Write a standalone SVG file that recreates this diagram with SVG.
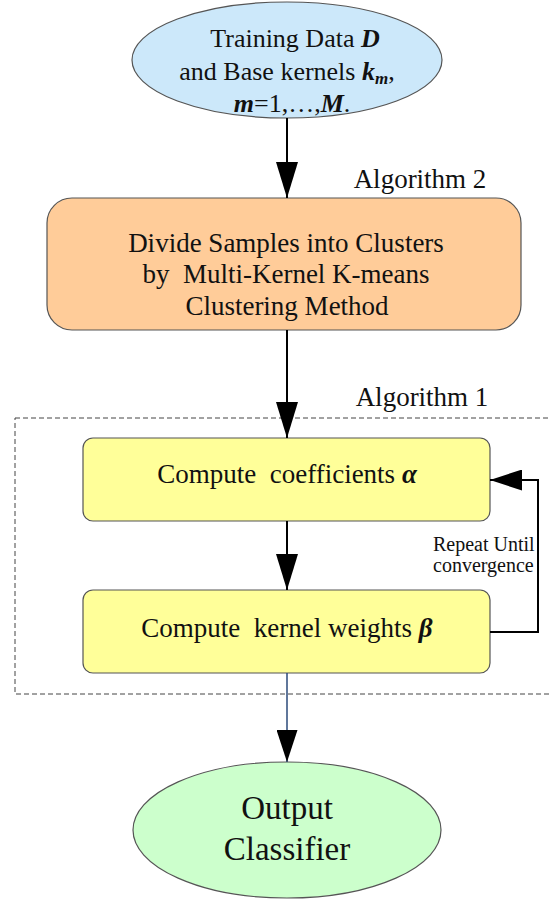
<svg xmlns="http://www.w3.org/2000/svg" width="549" height="899" viewBox="0 0 549 899" font-family="Liberation Serif, DejaVu Serif, serif">
  <style>
    text { font-family: 'Liberation Serif', 'DejaVu Serif', serif; fill: #111; text-anchor: middle; }
    .node { stroke: #555; stroke-width: 1.2; }
    .conn { stroke: #000; stroke-width: 2; fill: none; }
    .lbl { font-size: 27px; }
    .body { font-size: 27px; }
    .oval { font-size: 26px; }
    .small { font-size: 20px; text-anchor: start; }
    .big { font-size: 33px; }
    .bi { font-weight: bold; font-style: italic; }
  </style>
  <defs>
    <marker id="head" markerUnits="userSpaceOnUse" markerWidth="36" markerHeight="22" viewBox="0 0 36 22" refX="36" refY="11" orient="auto">
      <path d="M0,0 L36,11 L0,22 z" fill="#000"/>
    </marker>
    <marker id="headS" markerUnits="userSpaceOnUse" markerWidth="32" markerHeight="21" viewBox="0 0 32 21" refX="32" refY="10.5" orient="auto">
      <path d="M0,0 L32,10.5 L0,21 z" fill="#000"/>
    </marker>
  </defs>

  <!-- Algorithm 1 frame -->
  <rect x="15" y="418" width="545" height="276" fill="none" stroke="#444" stroke-width="1" stroke-dasharray="5,3"/>
  <text class="lbl" x="420" y="188">Algorithm 2</text>
  <text class="lbl" x="422" y="406">Algorithm 1</text>

  <g id="input">
    <ellipse class="node" cx="287" cy="60" rx="155" ry="58" fill="#CCE8FA"/>
    <text class="oval" x="295" y="47">Training Data <tspan class="bi">D</tspan></text>
    <text class="oval" x="287" y="80">and Base kernels <tspan class="bi">k</tspan><tspan class="bi" font-size="17" dy="4">m</tspan><tspan dy="-4">,</tspan></text>
    <text class="oval" x="292" y="112"><tspan class="bi">m</tspan>=1,…,<tspan class="bi">M</tspan>.</text>
  </g>

  <g id="clustering">
    <rect class="node" x="47" y="198" width="474" height="132" rx="25" fill="#FFCC99"/>
    <text class="body" x="286" y="252">Divide Samples into Clusters</text>
    <text class="body" x="286" y="283" xml:space="preserve">by  Multi-Kernel K-means</text>
    <text class="body" x="287" y="315">Clustering Method</text>
  </g>

  <g id="coefficients">
    <rect class="node" x="83" y="438" width="407" height="83" rx="10" fill="#FFFF99"/>
    <text class="body" x="287" y="483" xml:space="preserve">Compute  coefficients <tspan class="bi">α</tspan></text>
  </g>

  <g id="weights">
    <rect class="node" x="83" y="590" width="407" height="83" rx="10" fill="#FFFF99"/>
    <text class="body" x="287" y="637" xml:space="preserve">Compute  kernel weights <tspan class="bi">β</tspan></text>
  </g>

  <g id="output">
    <ellipse class="node" cx="287" cy="830" rx="154" ry="68" fill="#CCFFCC"/>
    <text class="big" x="287" y="819">Output</text>
    <text class="big" x="287" y="860">Classifier</text>
  </g>

  <g id="connectors">
    <path class="conn" d="M287,118 V198" marker-end="url(#head)"/>
    <path class="conn" d="M287,330 V438" marker-end="url(#head)"/>
    <path class="conn" d="M287,521 V590" marker-end="url(#head)"/>
    <path class="conn" d="M490,632 H538 V480 H490" marker-end="url(#headS)"/>
    <path d="M287,673 V762" stroke="#2B4A7A" stroke-width="1.5" fill="none" marker-end="url(#headS)"/>
    <text class="small" x="433" y="551">Repeat Until</text>
    <text class="small" x="433" y="572">convergence</text>
  </g>
</svg>
